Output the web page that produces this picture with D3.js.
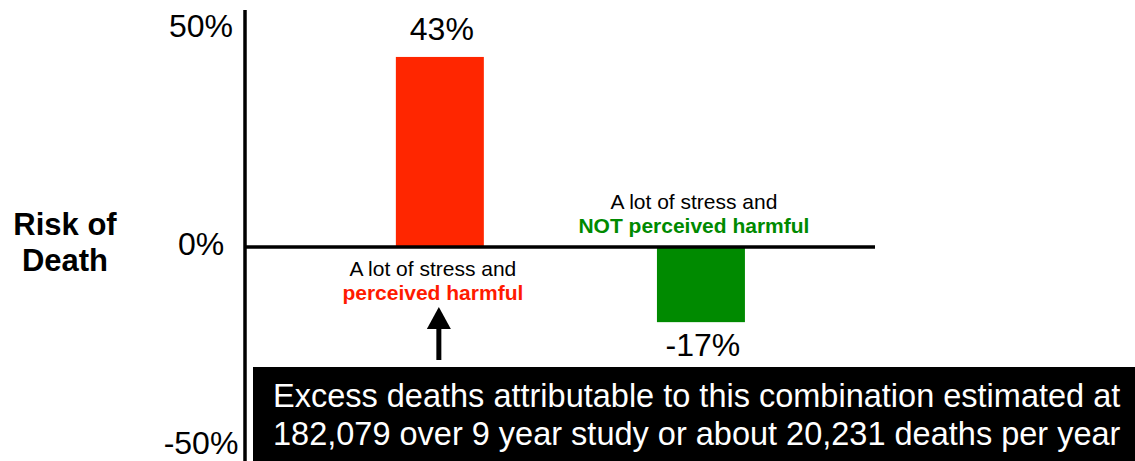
<!DOCTYPE html>
<html>
<head>
<meta charset="utf-8">
<style>
  body { margin: 0; background: #fff; }
  svg { display: block; font-family: "Liberation Sans", Arial, sans-serif; }
</style>
</head>
<body>
<svg width="1135" height="461"></svg>
<script src="https://d3js.org/d3.v7.min.js"></script>
<script>
// data
const categories = ['harmful', 'notHarmful'];
const values = [43, -17];
const labelTop = ['A lot of stress and', 'A lot of stress and'];
const labelBottom = ['perceived harmful', 'NOT perceived harmful'];
const barColors = ['#ff2600', '#008a00'];
const textColors = ['#ff1a00', '#008a00'];
const tickValues = [50, 0, -50];
const note = ['Excess deaths attributable to this combination estimated at',
              '182,079 over 9 year study or about 20,231 deaths per year'];

const W = 1135, H = 461;
const svg = d3.select('svg');

// scales
const x = d3.scaleBand().domain(categories).range([245, 875])
  .paddingInner(0.663).paddingOuter(0.538).align(0.537);
const y = d3.scaleLinear().domain([-50, 50]).range([468, 26]);

// y axis
const yAxis = d3.axisLeft(y).tickValues(tickValues).tickSize(0)
  .tickFormat(d => d + '%');
const gy = svg.append('g').attr('transform', 'translate(201,0)').call(yAxis);
gy.select('.domain').remove();
gy.selectAll('text')
  .attr('x', 0).attr('dy', '0.32em')
  .attr('text-anchor', 'middle')
  .attr('y', d => d === -50 ? 443 - y(d) : (d === 0 ? -3 : 0))
  .style('font-size', '32px').style('font-family', '"Liberation Sans", Arial, sans-serif')
  .attr('fill', '#000');

svg.append('line')
  .attr('x1', 245).attr('x2', 245).attr('y1', 10).attr('y2', H)
  .attr('stroke', '#000').attr('stroke-width', 3.5);

// axis title
svg.append('text')
  .attr('text-anchor', 'middle')
  .style('font-size', '31px').style('font-weight', 'bold')
  .selectAll('tspan').data(['Risk of', 'Death']).enter().append('tspan')
  .attr('x', 65).attr('y', (d, i) => 235 + i * 36)
  .text(d => d);

// bars
svg.selectAll('.bar').data(values).enter().append('rect')
  .attr('class', 'bar')
  .attr('x', (d, i) => x(categories[i]))
  .attr('width', x.bandwidth())
  .attr('y', d => y(Math.max(d, 0)))
  .attr('height', d => Math.abs(y(d) - y(0)))
  .attr('fill', (d, i) => barColors[i]);

// zero line
svg.append('line')
  .attr('x1', 245).attr('x2', 875).attr('y1', y(0)).attr('y2', y(0))
  .attr('stroke', '#000').attr('stroke-width', 3.5);

// value labels
svg.selectAll('.val').data(values).enter().append('text')
  .attr('class', 'val')
  .attr('x', (d, i) => x(categories[i]) + x.bandwidth() / 2 + 2)
  .attr('y', d => d > 0 ? y(d) - 28 : y(d) + 23)
  .attr('dy', '0.35em')
  .attr('text-anchor', 'middle')
  .style('font-size', '32px')
  .text(d => d + '%');

// category labels
values.forEach((v, i) => {
  const cx = x(categories[i]) + x.bandwidth() / 2 - 7;
  const base = v > 0 ? y(0) + 29 : y(0) - 38;
  svg.append('text')
    .attr('x', cx).attr('y', base).attr('text-anchor', 'middle')
    .style('font-size', '21px').attr('fill', '#000')
    .text(labelTop[i]);
  svg.append('text')
    .attr('x', cx).attr('y', base + 24).attr('text-anchor', 'middle')
    .style('font-size', '21px').style('font-weight', 'bold')
    .attr('fill', textColors[i])
    .text(labelBottom[i]);
});

// arrow pointing at the harmful label
const ax = x(categories[0]) + x.bandwidth() / 2 - 1;
svg.append('line')
  .attr('x1', ax).attr('x2', ax).attr('y1', 326).attr('y2', 360)
  .attr('stroke', '#000').attr('stroke-width', 5);
svg.append('path')
  .attr('d', `M${ax},307L${ax + 12},329L${ax - 12},329Z`)
  .attr('fill', '#000');

// note box
svg.append('rect')
  .attr('x', 253).attr('y', 367).attr('width', W - 253).attr('height', H - 367)
  .attr('fill', '#000');
svg.selectAll('.note').data(note).enter().append('text')
  .attr('class', 'note')
  .attr('x', 273).attr('y', (d, i) => 407 + i * 38)
  .attr('fill', '#fff')
  .style('font-size', '32.5px')
  .text(d => d);
</script>
</body>
</html>
